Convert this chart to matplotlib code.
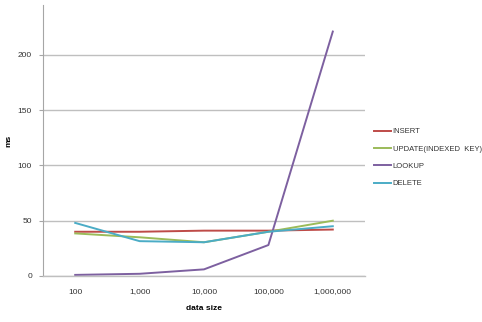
import matplotlib.pyplot as plt

plt.rcParams['font.family'] = ['Liberation Sans', 'DejaVu Sans']

# Data
sizes = ['100', '1,000', '10,000', '100,000', '1,000,000']
insert = [40, 40, 41, 41, 42]
update = [38.5, 35, 30.5, 40, 50]
lookup = [1, 2, 6, 28, 221]
delete = [48, 31.5, 30.5, 40, 45]

series = [
    ('INSERT', insert, '#BE4B48'),
    ('UPDATE(INDEXED  KEY)', update, '#9BBB59'),
    ('LOOKUP', lookup, '#7D60A0'),
    ('DELETE', delete, '#4BACC6'),
]

fig = plt.figure(figsize=(4.82, 3.22), dpi=100)
ax = fig.add_axes([43 / 482, 1 - 276 / 322, 322 / 482, 271 / 322])

x = range(len(sizes))
for name, vals, col in series:
    ax.plot(x, vals, color=col, lw=1.4, label=name)

ax.set_xlim(-0.5, len(sizes) - 0.5)
ax.set_ylim(0, 245)
ax.set_yticks([0, 50, 100, 150, 200])
ax.set_xticks(list(x))
ax.set_xticklabels(sizes)
ax.yaxis.grid(True, color='#BFBFBF', lw=1)
ax.set_axisbelow(True)

for s in ['top', 'right']:
    ax.spines[s].set_visible(False)
ax.spines['left'].set_color('#A6A6A6')
ax.spines['bottom'].set_color('#BFBFBF')
ax.spines['bottom'].set_linewidth(1)
ax.tick_params(axis='y', length=3, color='#A6A6A6', labelsize=6, pad=5, labelcolor='#333333')
ax.tick_params(axis='x', length=0, labelsize=6, pad=9, labelcolor='#333333')

ax.set_ylabel('ms', fontsize=6, fontweight='bold')
ax.yaxis.set_label_coords(-0.096, 0.5)
ax.set_xlabel('data size', fontsize=6, fontweight='bold')
ax.xaxis.set_label_coords(0.5, -0.107)

leg = ax.legend(loc='upper left', bbox_to_anchor=(374 / 482, 1 - 128 / 322),
                bbox_transform=fig.transFigure, frameon=False, borderpad=0,
                borderaxespad=0, fontsize=5.5, handlelength=2.2,
                handletextpad=0.25, labelspacing=1.3)
for t in leg.get_texts():
    t.set_color('#333333')

fig.savefig('out.png', dpi=100)
